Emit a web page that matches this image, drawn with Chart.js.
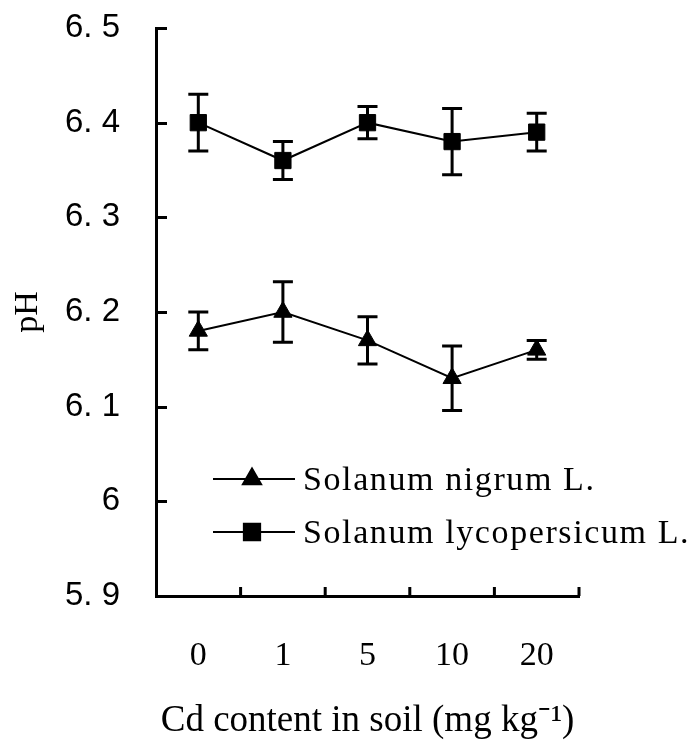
<!DOCTYPE html>
<html>
<head>
<meta charset="utf-8">
<script src="https://cdn.jsdelivr.net/npm/chart.js@4/dist/chart.umd.min.js"></script>
<style>
  html, body { margin: 0; padding: 0; background: #fff; }
  #wrap { width: 695px; height: 743px; }
</style>
</head>
<body>
<div id="wrap"><canvas id="chart" width="695" height="743"></canvas></div>
<script>
// Cd levels in soil (mg/kg)
const categories = ['0', '1', '5', '10', '20'];

// Solanum nigrum L. (triangles)
const nigrumMean = [6.18, 6.20, 6.17, 6.13, 6.16];
const nigrumErr = [0.02, 0.032, 0.025, 0.034, 0.01];

// Solanum lycopersicum L. (squares)
const lycoMean = [6.40, 6.36, 6.40, 6.38, 6.39];
const lycoErr = [0.03, 0.02, 0.017, 0.035, 0.02];

const yTickValues = [5.9, 6.0, 6.1, 6.2, 6.3, 6.4, 6.5];
const yTickLabels = ['5. 9', '6', '6. 1', '6. 2', '6. 3', '6. 4', '6. 5'];

const errors = [nigrumErr, lycoErr];

// error bars drawn through the y scale
const errorBars = {
    id: 'errorBars',
    afterDatasetsDraw(chart) {
        const ctx = chart.ctx;
        const y = chart.scales.y;
        ctx.save();
        ctx.strokeStyle = '#000';
        ctx.lineWidth = 3;
        chart.data.datasets.forEach((ds, di) => {
            const meta = chart.getDatasetMeta(di);
            meta.data.forEach((pt, i) => {
                const top = y.getPixelForValue(ds.data[i] + errors[di][i]);
                const bot = y.getPixelForValue(ds.data[i] - errors[di][i]);
                ctx.beginPath();
                ctx.moveTo(pt.x, top); ctx.lineTo(pt.x, bot);
                ctx.moveTo(pt.x - 10, top); ctx.lineTo(pt.x + 10, top);
                ctx.moveTo(pt.x - 10, bot); ctx.lineTo(pt.x + 10, bot);
                ctx.stroke();
            });
        });
        ctx.restore();
    }
};

// inward tick marks on both axes
const innerTicks = {
    id: 'innerTicks',
    afterDraw(chart) {
        const ctx = chart.ctx;
        const area = chart.chartArea;
        const x = chart.scales.x;
        const y = chart.scales.y;
        ctx.save();
        ctx.strokeStyle = '#000';
        ctx.lineWidth = 3;
        ctx.beginPath();
        yTickValues.forEach(v => {
            const py = Math.round(y.getPixelForValue(v)) + 0.5;
            ctx.moveTo(area.left, py);
            ctx.lineTo(area.left + 11, py);
        });
        for (let i = 0; i < categories.length; i++) {
            const px = i < categories.length - 1
                ? (x.getPixelForValue(i) + x.getPixelForValue(i + 1)) / 2
                : area.right;
            ctx.moveTo(px, area.bottom);
            ctx.lineTo(px, area.bottom - 9);
        }
        ctx.stroke();
        ctx.restore();
    }
};

// legend inside the plot: line, marker in middle, label
const innerLegend = {
    id: 'innerLegend',
    afterDraw(chart) {
        const ctx = chart.ctx;
        const area = chart.chartArea;
        const x0 = area.left + 57;
        const x1 = area.left + 139;
        const xm = area.left + 96;
        ctx.save();
        chart.data.datasets.forEach((ds, i) => {
            const ly = area.bottom - 117 + i * 53;
            ctx.strokeStyle = '#000';
            ctx.lineWidth = 2;
            ctx.beginPath();
            ctx.moveTo(x0, ly); ctx.lineTo(x1, ly);
            ctx.stroke();
            ctx.fillStyle = '#000';
            Chart.helpers.drawPoint(ctx, {
                pointStyle: ds.pointStyle,
                radius: ds.pointRadius,
                borderWidth: 1,
                rotation: 0
            }, xm, ly);
            ctx.font = '34px "Liberation Serif"';
            ctx.letterSpacing = '1.6px';
            ctx.textBaseline = 'alphabetic';
            ctx.textAlign = 'left';
            ctx.fillText(ds.label, area.left + 147, ly + 11);
        });
        ctx.restore();
    }
};

new Chart(document.getElementById('chart'), {
    type: 'line',
    data: {
        labels: categories,
        datasets: [
            {
                label: 'Solanum nigrum L.',
                data: nigrumMean,
                borderColor: '#000',
                borderWidth: 2,
                pointStyle: 'triangle',
                pointRadius: 10.5,
                pointBackgroundColor: '#000',
                pointBorderColor: '#000',
                pointBorderWidth: 1
            },
            {
                label: 'Solanum lycopersicum L.',
                data: lycoMean,
                borderColor: '#000',
                borderWidth: 2,
                pointStyle: 'rect',
                pointRadius: 11.5,
                pointBackgroundColor: '#000',
                pointBorderColor: '#000',
                pointBorderWidth: 1
            }
        ]
    },
    options: {
        responsive: false,
        animation: false,
        layout: { padding: { top: 28, right: 116, left: 0, bottom: 0 } },
        plugins: {
            legend: { display: false },
            tooltip: { enabled: false }
        },
        scales: {
            x: {
                offset: true,
                grid: { display: false, drawTicks: false },
                border: { display: true, color: '#000', width: 3 },
                ticks: {
                    color: '#000',
                    padding: 40,
                    font: { family: '"Liberation Serif"', size: 34 }
                },
                title: {
                    display: true,
                    text: 'Cd content in soil (mg kg⁻¹)',
                    color: '#000',
                    font: { family: '"Liberation Serif"', size: 37 },
                    padding: { top: 0, bottom: 0 }
                },
                afterFit(scale) {
                    scale.height = 147;
                    scale.paddingLeft = 0;
                    scale.paddingRight = 0;
                }
            },
            y: {
                min: 5.9,
                max: 6.5,
                grid: { display: false, drawTicks: false },
                border: { display: true, color: '#000', width: 3 },
                afterBuildTicks(scale) {
                    scale.ticks = yTickValues.map(v => ({ value: v }));
                },
                ticks: {
                    color: '#000',
                    padding: 36,
                    font: { family: '"Liberation Sans"', size: 33 },
                    callback: (v, i) => yTickLabels[i]
                },
                title: {
                    display: true,
                    text: 'pH',
                    color: '#000',
                    font: { family: '"Liberation Serif"', size: 34 },
                    padding: { top: 8, bottom: 0 }
                },
                afterFit(scale) {
                    scale.width = 156;
                    scale.paddingTop = 0;
                    scale.paddingBottom = 0;
                }
            }
        }
    },
    plugins: [errorBars, innerTicks, innerLegend]
});
</script>
</body>
</html>
